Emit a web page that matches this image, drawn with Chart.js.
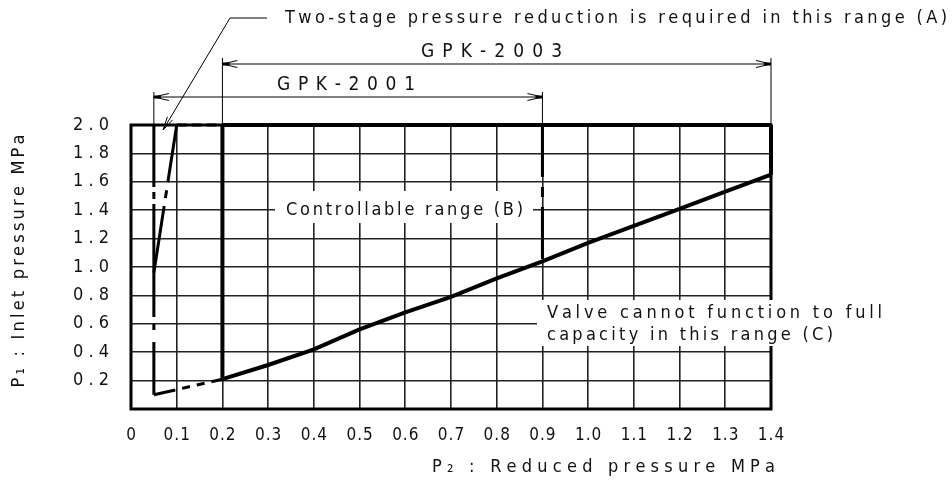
<!DOCTYPE html>
<html>
<head>
<meta charset="utf-8">
<script src="https://cdn.jsdelivr.net/npm/chart.js@4.4.1/dist/chart.umd.min.js"></script>
<style>
  html, body { margin: 0; padding: 0; background: #fff; }
</style>
</head>
<body>
<canvas id="valveChart" width="952" height="486"></canvas>
<script>
// P2 = reduced pressure (x), P1 = inlet pressure (y), both MPa

// lower limit of the controllable range (B)
const curveP2 = [0.2, 0.3, 0.4, 0.5, 0.6, 0.7, 0.8, 0.9, 1.0, 1.1, 1.2, 1.3, 1.4];
const curveP1 = [0.21, 0.31, 0.42, 0.56, 0.68, 0.79, 0.92, 1.04, 1.17, 1.29, 1.41, 1.53, 1.65];

// outline of range B
const leftEdgeP2 = [0.2, 0.2];
const leftEdgeP1 = [0.21, 2.0];
const topEdgeP2 = [0.2, 1.4];
const topEdgeP1 = [2.0, 2.0];
const rightEdgeP2 = [1.4, 1.4];
const rightEdgeP1 = [1.65, 2.0];

// GPK-2001 upper limit
const gpk2001EdgeP2 = [0.9, 0.9];
const gpk2001EdgeP1 = [2.0, 1.04];

// two-stage range (A)
const rangeAVertP2 = [0.05, 0.05];
const rangeAVertP1 = [2.0, 0.1];
const rangeABottomP2 = [0.05, 0.2];
const rangeABottomP1 = [0.1, 0.21];
const rangeATopP2 = [0.1, 0.2];
const rangeATopP1 = [2.0, 2.0];
const rangeASlantP2 = [0.1, 0.05];
const rangeASlantP1 = [2.0, 0.96];

// dimension ranges drawn above the plot
const gpk2001Range = [0.05, 0.9];
const gpk2003Range = [0.2, 1.4];

// ticks
const xTickValues = [0, 0.1, 0.2, 0.3, 0.4, 0.5, 0.6, 0.7, 0.8, 0.9, 1.0, 1.1, 1.2, 1.3, 1.4];
const xTickLabels = ['0', '0.1', '0.2', '0.3', '0.4', '0.5', '0.6', '0.7', '0.8', '0.9', '1.0', '1.1', '1.2', '1.3', '1.4'];
const yTickValues = [0.2, 0.4, 0.6, 0.8, 1.0, 1.2, 1.4, 1.6, 1.8, 2.0];
const yTickLabels = ['0.2', '0.4', '0.6', '0.8', '1.0', '1.2', '1.4', '1.6', '1.8', '2.0'];

const FONT = "'DejaVu Sans Condensed', 'Liberation Sans Narrow', 'DejaVu Sans', sans-serif";
const INK = '#111';

function toPoints(xs, ys) {
    return xs.map((x, i) => ({ x: x, y: ys[i] }));
}

function lineSet(label, xs, ys, width, dash) {
    return {
        label: label,
        data: toPoints(xs, ys),
        showLine: true,
        borderColor: '#000',
        backgroundColor: '#000',
        borderWidth: width,
        borderDash: dash || [],
        pointRadius: 0,
        tension: 0,
        fill: false,
        clip: false
    };
}

// draw text one char at a time so the wide CAD-style spacing can be matched
function spacedText(ctx, text, x, y, opts) {
    ctx.font = (opts.size || 16) + 'px ' + FONT;
    ctx.fillStyle = INK;
    const chars = Array.from(text);
    const widths = chars.map(c => ctx.measureText(c).width);
    const natural = widths.reduce((a, b) => a + b, 0);
    let gap = opts.gap || 0;
    if (opts.width) gap = (opts.width - natural) / Math.max(chars.length - 1, 1);
    const total = natural + gap * (chars.length - 1);
    let cx = x;
    if (opts.align === 'center') cx = x - total / 2;
    else if (opts.align === 'right') cx = x - total;
    ctx.textBaseline = 'middle';
    ctx.textAlign = 'left';
    chars.forEach((c, i) => {
        ctx.fillText(c, cx, y);
        cx += widths[i] + gap;
    });
}

function seg(ctx, x1, y1, x2, y2) {
    ctx.beginPath();
    ctx.moveTo(x1, y1);
    ctx.lineTo(x2, y2);
    ctx.stroke();
}

// open arrow with a small filled block at the tip, dir = +1 points right
function dimArrow(ctx, x, y, dir) {
    ctx.fillStyle = '#000';
    ctx.fillRect(dir > 0 ? x - 7 : x, y - 1.5, 7, 3);
    seg(ctx, x, y, x - dir * 15, y - 3.5);
    seg(ctx, x, y, x - dir * 15, y + 3.5);
}

const annotationPlugin = {
    id: 'drawingNotes',
    beforeDatasetsDraw(chart) {
        const ctx = chart.ctx;
        const a = chart.chartArea;
        ctx.save();
        // frame
        ctx.strokeStyle = '#000';
        ctx.lineWidth = 3;
        ctx.strokeRect(a.left, a.top, a.right - a.left, a.bottom - a.top);

        // white backgrounds behind notes B and C
        ctx.fillStyle = '#fff';
        ctx.fillRect(275, 191, 258, 32);
        ctx.fillRect(537, 300, 360, 46);

        spacedText(ctx, 'Controllable range (B)', 286, 210, { size: 18, width: 237 });
        spacedText(ctx, 'Valve cannot function to full', 547, 313, { size: 18, width: 335 });
        spacedText(ctx, 'capacity in this range (C)', 547, 335, { size: 18, width: 286 });
        ctx.restore();
    },
    afterDraw(chart) {
        const ctx = chart.ctx;
        const a = chart.chartArea;
        const xs = chart.scales.x;
        const ys = chart.scales.y;
        ctx.save();

        // tick labels
        xTickValues.forEach((v, i) => {
            spacedText(ctx, xTickLabels[i], xs.getPixelForValue(v), a.bottom + 27, { size: 17, gap: 1, align: 'center' });
        });
        yTickValues.forEach((v, i) => {
            spacedText(ctx, yTickLabels[i], a.left - 22, ys.getPixelForValue(v), { size: 18, width: 36, align: 'right' });
        });

        // axis titles
        spacedText(ctx, 'P\u2082 : Reduced pressure MPa', 432, 467, { size: 18, width: 343 });
        ctx.save();
        ctx.translate(19, 261);
        ctx.rotate(-Math.PI / 2);
        spacedText(ctx, 'P\u2081 : Inlet pressure MPa', 0, 0, { size: 18, width: 253, align: 'center' });
        ctx.restore();

        // dimension lines
        ctx.strokeStyle = '#000';
        ctx.lineWidth = 1;
        const dims = [
            { range: gpk2003Range, y: a.top - 61, ext: a.top - 67, text: 'GPK-2003', tx: 421, tw: 141, ty: a.top - 73 },
            { range: gpk2001Range, y: a.top - 28, ext: a.top - 33, text: 'GPK-2001', tx: 277, tw: 138, ty: a.top - 40 }
        ];
        dims.forEach(d => {
            const x1 = xs.getPixelForValue(d.range[0]);
            const x2 = xs.getPixelForValue(d.range[1]);
            seg(ctx, x1, d.ext, x1, a.top);
            seg(ctx, x2, d.ext, x2, a.top);
            seg(ctx, x1, d.y, x2, d.y);
            dimArrow(ctx, x1, d.y, -1);
            dimArrow(ctx, x2, d.y, 1);
            spacedText(ctx, d.text, d.tx, d.ty, { size: 19, width: d.tw });
        });

        // note A with leader
        spacedText(ctx, 'Two-stage pressure reduction is required in this range (A)', 285, 18, { size: 18, width: 662 });
        const tipX = xs.getPixelForValue(0.07);
        const tipY = a.top + 5;
        ctx.beginPath();
        ctx.moveTo(267, 18);
        ctx.lineTo(230, 18);
        ctx.lineTo(tipX, tipY);
        ctx.stroke();
        const ang = Math.atan2(18 - tipY, 230 - tipX);
        [-0.22, 0.22].forEach(off => {
            seg(ctx, tipX, tipY, tipX + 14 * Math.cos(ang + off), tipY + 14 * Math.sin(ang + off));
        });
        ctx.restore();
    }
};

function zeroSize(scale) {
    if (scale.isHorizontal()) scale.height = 0;
    else scale.width = 0;
}

new Chart(document.getElementById('valveChart'), {
    type: 'scatter',
    data: {
        datasets: [
            lineSet('Range B lower limit', curveP2, curveP1, 4),
            lineSet('Range B left', leftEdgeP2, leftEdgeP1, 4),
            lineSet('Range B top', topEdgeP2, topEdgeP1, 4),
            lineSet('Range B right', rightEdgeP2, rightEdgeP1, 4),
            lineSet('GPK-2001 limit', gpk2001EdgeP2, gpk2001EdgeP1, 3, [52, 10, 10, 10]),
            lineSet('Range A vertical', rangeAVertP2, rangeAVertP1, 3, [62, 5, 7, 5, 113, 7, 6, 12, 100]),
            lineSet('Range A bottom', rangeABottomP2, rangeABottomP1, 3, [22, 7, 8, 7, 8, 7, 60]),
            lineSet('Range A top', rangeATopP2, rangeATopP1, 3, [10, 5]),
            lineSet('Range A slant', rangeASlantP2, rangeASlantP1, 3, [58, 8, 8, 8, 200])
        ]
    },
    options: {
        responsive: false,
        animation: false,
        events: [],
        layout: { padding: { left: 131, right: 181, top: 125, bottom: 77 } },
        plugins: {
            legend: { display: false },
            tooltip: { enabled: false }
        },
        scales: {
            x: {
                type: 'linear',
                min: 0,
                max: 1.4,
                afterFit: zeroSize,
                ticks: { display: false, stepSize: 0.1 },
                grid: { color: '#222', lineWidth: 1.6, drawTicks: false },
                border: { display: false }
            },
            y: {
                type: 'linear',
                min: 0,
                max: 2.0,
                afterFit: zeroSize,
                ticks: { display: false, stepSize: 0.2 },
                grid: { color: '#222', lineWidth: 1.6, drawTicks: false },
                border: { display: false }
            }
        }
    },
    plugins: [annotationPlugin]
});
</script>
</body>
</html>
